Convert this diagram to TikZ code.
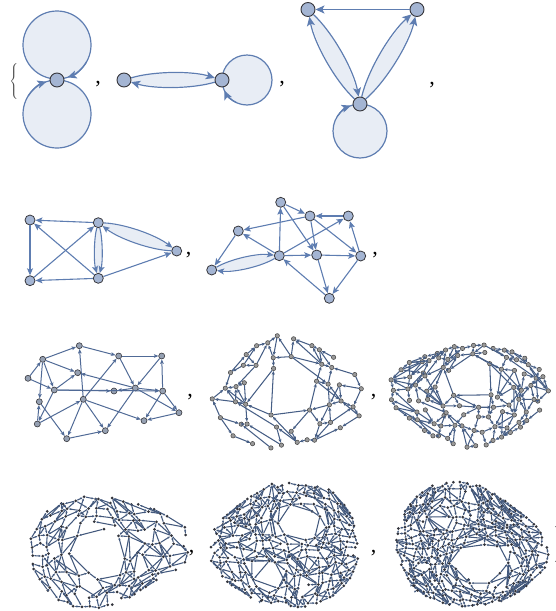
\documentclass[tikz,border=0pt]{standalone}
\usepackage{fontspec}
\setmainfont{Liberation Serif}
\usetikzlibrary{arrows.meta,calc}
\pgfdeclarelayer{bg}
\pgfsetlayers{bg,main}
\definecolor{ecol}{RGB}{94,125,177}
\definecolor{nfill}{RGB}{164,181,211}
\definecolor{ndraw}{RGB}{55,55,60}
\definecolor{lfill}{RGB}{232,237,245}
\definecolor{dcol}{RGB}{50,52,60}
\tikzset{
 vA/.style={circle,draw=ndraw,fill=nfill,line width=0.9pt,inner sep=0pt,minimum size=14pt},
 vB/.style={vA,minimum size=10pt,line width=0.8pt},
 vC/.style={circle,draw=ndraw,fill=nfill!60!gray,line width=0.6pt,inner sep=0pt,minimum size=6pt},
 vD/.style={circle,draw=black!75,fill=black!40,line width=0.5pt,inner sep=0pt,minimum size=4.4pt},
 vE/.style={circle,fill=dcol,inner sep=0pt,minimum size=3pt},
 eA/.style={draw=ecol,line width=1.2pt,-{Stealth[length=9pt,width=8pt,inset=2pt]}},
 eB/.style={draw=ecol,line width=1.1pt,-{Stealth[length=7pt,width=6pt,inset=1.5pt]}},
 eC/.style={draw=ecol!85!black,line width=1pt,-{Stealth[length=4.5pt,width=3.6pt,inset=1pt]}},
 eD/.style={draw=ecol!75!black,line width=1.05pt,-{Stealth[length=3.6pt,width=3pt,inset=0.8pt]}},
 eE/.style={draw=ecol!70!black,line width=1.05pt,-{Stealth[length=2.4pt,width=2pt,inset=0.5pt]}},
 loopst/.style={fill=lfill,draw=ecol,line width=1.2pt},
 brc/.style={inner sep=0pt,text=black!70},
 commast/.style={inner sep=0pt,font=\fontsize{22}{24}\selectfont}
}
\newcommand\rndedge[3]{%
 \pgfmathtruncatemacro\eflag{rnd<#3 ? 1 : 0}%
 \ifnum\eflag=1
  \edef\eax{\csname X@#1\endcsname}\edef\eay{\csname Y@#1\endcsname}%
  \edef\ebx{\csname X@#2\endcsname}\edef\eby{\csname Y@#2\endcsname}%
  \pgfmathtruncatemacro\eok{veclen(\ebx-\eax,\eby-\eay)<\maxlen ? 1 : 0}%
  \ifnum\eok=1
   \pgfmathtruncatemacro\edir{rnd<0.5 ? 1 : 0}%
   \ifnum\edir=1 \draw[meshe] (#1) -- (#2);\else \draw[meshe] (#2) -- (#1);\fi
  \fi
 \fi}
% local hole: push points away from (hx,hy): inside radius R, map d -> r + d (R-r)/R
\newcommand\holepush[4]{%
 \pgfmathsetmacro\hdx{\gx-(#1)}%
 \pgfmathsetmacro\hdy{\gy-(#2)}%
 \pgfmathsetmacro\hd{max(sqrt((\hdx)*(\hdx)+(\hdy)*(\hdy)),0.02)}%
 \pgfmathsetmacro\hf{\hd<#4 ? (#3+\hd*(#4-#3)/#4)/\hd : 1}%
 \pgfmathsetmacro\gx{#1+(\hdx)*\hf}%
 \pgfmathsetmacro\gy{#2+(\hdy)*\hf}}
% #1 name, #2 cx, #3 cy, #4 rx, #5 ry, #6 Nx, #7 Ny, #8 jitter
\newcommand\meshgraph[8]{%
 \pgfmathtruncatemacro\mNx{#6-1}%
 \pgfmathtruncatemacro\mNy{#7-1}%
 \foreach \i in {0,...,\mNx}{%
  \foreach \j in {0,...,\mNy}{%
   \pgfmathsetmacro\gu{-1+2*\i/\mNx+#8*rand}%
   \pgfmathsetmacro\gv{-1+2*\j/\mNy+#8*rand}%
   \pgfmathsetmacro\gx{(\gu)*sqrt(max(1-(\gv)*(\gv)/2,0.3))}%
   \pgfmathsetmacro\gy{(\gv)*sqrt(max(1-(\gu)*(\gu)/2,0.3))}%
   \pgfmathsetmacro\gt{atan2(\gy,\gx)}%
   \pgfmathsetmacro\gs{1+\irrA*sin(3*\gt+\irrP)+\irrB*cos(2*\gt+\irrQ)}%
   \pgfmathsetmacro\gx{\gx*\gs}%
   \pgfmathsetmacro\gy{\gy*\gs}%
   \holepush{\hAx}{\hAy}{\hAr}{\hAR}%
   \holepush{\hBx}{\hBy}{\hBr}{\hBR}%
   \pgfmathsetmacro\px{#2+#4*\gx}%
   \pgfmathsetmacro\py{#3+#5*\gy}%
   \expandafter\xdef\csname X@#1-\i-\j\endcsname{\px}%
   \expandafter\xdef\csname Y@#1-\i-\j\endcsname{\py}%
   \node[meshv] (#1-\i-\j) at (\px,\py) {};
  }}%
 \foreach \i in {0,...,\mNx}{%
  \foreach \j in {0,...,\mNy}{%
   \pgfmathtruncatemacro\ia{\i+1}%
   \pgfmathtruncatemacro\ja{\j+1}%
   \pgfmathtruncatemacro\ib{\i+2}%
   \pgfmathtruncatemacro\jb{\j+2}%
   \pgfmathtruncatemacro\jm{\j-1}%
   \ifnum\i<\mNx \rndedge{#1-\i-\j}{#1-\ia-\j}{\pA}\fi
   \ifnum\j<\mNy \rndedge{#1-\i-\j}{#1-\i-\ja}{\pA}\fi
   \ifnum\i<\mNx \ifnum\j<\mNy \rndedge{#1-\i-\j}{#1-\ia-\ja}{\pD}\fi\fi
   \ifnum\i<\mNx \ifnum\j>0 \rndedge{#1-\i-\j}{#1-\ia-\jm}{\pD}\fi\fi
   \ifnum\ib>\mNx\else \ifnum\j<\mNy \rndedge{#1-\i-\j}{#1-\ib-\ja}{\pL}\fi\fi
   \ifnum\jb>\mNy\else \ifnum\i<\mNx \rndedge{#1-\i-\j}{#1-\ia-\jb}{\pL}\fi\fi
  }}%
}
\newcommand\setholes[8]{\def\hAx{#1}\def\hAy{#2}\def\hAr{#3}\def\hAR{#4}\def\hBx{#5}\def\hBy{#6}\def\hBr{#7}\def\hBR{#8}}
\begin{document}
\begin{tikzpicture}[x=1pt,y=-1pt]
\useasboundingbox (0,0) rectangle (556,611);
%% ---------------- Row 1
\node[brc] (lbrace) at (14.5,82) {$\left\{\vrule height 17pt depth 17pt width 0pt\right.$};
\node[vA] (s1) at (57,80) {};
\node[commast] (c1) at (98,84) {,};
\node[vA] (s2a) at (124,80) {};
\node[vA] (s2b) at (222,80) {};
\node[commast] (c2) at (282,84) {,};
\node[vA] (s3a) at (308,9.5) {};
\node[vA] (s3b) at (417,9.5) {};
\node[vA] (s3c) at (360,104) {};
\node[commast] (c3) at (432,85) {,};
\begin{pgfonlayer}{bg}
 \filldraw[loopst] (57,45) circle[radius=34];
 \filldraw[loopst] (57,114) circle[radius=34];
 \filldraw[loopst] (247,80) circle[radius=25];
 \filldraw[loopst] (360,131) circle[radius=27];
 \fill[lfill] (s2a.center) .. controls (154,71) and (192,71) .. (s2b.center) .. controls (192,89) and (154,89) .. (s2a.center);
 \fill[lfill] (s3a.center) .. controls (333,32.7) and (353.8,70.5) .. (s3c.center) .. controls (335,80.9) and (314.2,43.1) .. (s3a.center);
 \fill[lfill] (s3c.center) .. controls (386.3,81.2) and (409.1,43.4) .. (s3b.center) .. controls (390.7,32.3) and (367.9,70.1) .. (s3c.center);
\end{pgfonlayer}
\draw[eA] ($(57,45)+(30:34)$) arc[start angle=30,end angle=72,radius=34];
\draw[eA] ($(57,114)+(212:34)$) arc[start angle=212,end angle=252,radius=34];
\draw[eA] ($(247,80)+(115:25)$) arc[start angle=115,end angle=155,radius=25];
\draw[eA] ($(360,131)+(212:27)$) arc[start angle=212,end angle=250,radius=27];
\draw[eA] (s2a) .. controls (154,71) and (192,71) .. (s2b);
\draw[eA] (s2b) .. controls (192,89) and (154,89) .. (s2a);
\draw[eA] (s3b) -- (s3a);
\draw[eA] (s3a) .. controls (333,32.7) and (353.8,70.5) .. (s3c);
\draw[eA] (s3c) .. controls (335,80.9) and (314.2,43.1) .. (s3a);
\draw[eA] (s3c) .. controls (386.3,81.2) and (409.1,43.4) .. (s3b);
\draw[eA] (s3c) .. controls (367.9,70.1) and (390.7,32.3) .. (s3b);
%% ---------------- Row 2, graph 1
\node[vB] (qA) at (30,220) {};
\node[vB] (qB) at (98.3,222.7) {};
\node[vB] (qC) at (176.7,251) {};
\node[vB] (qD) at (30,280.7) {};
\node[vB] (qE) at (98.3,278.3) {};
\node[commast] (c4) at (188.5,255) {,};
\begin{pgfonlayer}{bg}
 \fill[lfill] (qB.center) .. controls (93.8,238.7) and (93.8,262.3) .. (qE.center) .. controls (102.8,262.3) and (102.8,238.7) .. (qB.center);
 \fill[lfill] (qB.center) .. controls (124.5,223.7) and (155.9,235) .. (qC.center) .. controls (150.5,250) and (119.1,238.7) .. (qB.center);
\end{pgfonlayer}
\draw[eB] (qB) -- (qA);
\draw[eB] (qA) -- (qD);
\draw[eB] (qE) -- (qD);
\draw[eB] (qD) -- (qB);
\draw[eB] (qE) -- (qA);
\draw[eB] (qB) .. controls (93.8,238.7) and (93.8,262.3) .. (qE);
\draw[eB] (qB) .. controls (102.8,238.7) and (102.8,262.3) .. (qE);
\draw[eB] (qB) .. controls (124.5,223.7) and (155.9,235) .. (qC);
\draw[eB] (qC) .. controls (150.5,250) and (119.1,238.7) .. (qB);
\draw[eB] (qE) -- (qC);
%% ---------------- Row 2, graph 2
\node[vB] (w1) at (280.7,202.3) {};
\node[vB] (w2) at (310,216) {};
\node[vB] (w3) at (348.3,216) {};
\node[vB] (w4) at (238.3,231) {};
\node[vB] (w5) at (279.3,255.7) {};
\node[vB] (w6) at (316.7,255) {};
\node[vB] (w7) at (360.7,256) {};
\node[vB] (w8) at (211.7,270) {};
\node[vB] (w9) at (329.3,298.3) {};
\node[commast] (c5) at (375,255) {,};
\begin{pgfonlayer}{bg}
 \fill[lfill] (w8.center) .. controls (230.5,258.9) and (257.5,253.2) .. (w5.center) .. controls (260.5,266.9) and (233.5,272.6) .. (w8.center);
\end{pgfonlayer}
\draw[eB] (w1) -- (w2);
\draw[eB] (w3) -- (w2);
\draw[eB] (w2) -- (w4);
\draw[eB] (w5) -- (w1);
\draw[eB] (w1) -- (w6);
\draw[eB] (w2) -- (w6);
\draw[eB] (w2) -- (w7);
\draw[eB] (w5) -- (w3);
\draw[eB] (w7) -- (w3);
\draw[eB] (w5) -- (w4);
\draw[eB] (w4) -- (w8);
\draw[eB] (w8) .. controls (230.5,258.9) and (257.5,253.2) .. (w5);
\draw[eB] (w5) .. controls (260.5,266.9) and (233.5,272.6) .. (w8);
\draw[eB] (w5) -- (w6);
\draw[eB] (w6) -- (w7);
\draw[eB] (w9) -- (w5);
\draw[eB] (w6) -- (w9);
\draw[eB] (w7) -- (w9);
%% ---------------- Row 3, graph 1
\node[vC] (ta) at (79.3,345.7) {};
\node[vC] (tb) at (42.7,359.3) {};
\node[vC] (tc) at (118.7,356) {};
\node[vC] (td) at (161.7,356) {};
\node[vC] (te) at (28,378.3) {};
\node[vC] (tf) at (77.7,372.7) {};
\node[vC] (tg) at (54.3,390) {};
\node[vC] (th) at (114,391) {};
\node[vC] (ti) at (135.3,388) {};
\node[vC] (tj) at (162.7,391) {};
\node[vC] (tk) at (39.3,401.7) {};
\node[vC] (tl) at (83.3,399.3) {};
\node[vC] (tm) at (179,412.7) {};
\node[vC] (tn) at (144,420.7) {};
\node[vC] (to) at (37.3,424) {};
\node[vC] (tp) at (105.3,430.7) {};
\node[vC] (tq) at (66.7,438.7) {};
\node[commast] (c6) at (190,397) {,};
\foreach \s/\t in {tb/ta,ta/tc,tc/td,tl/tc,tc/ti,td/ti,tj/td,te/tb,tb/tg,tb/tk,tb/tf,ti/tf,tl/ta,te/tg,tg/th,ti/th,ti/tj,tg/tf,tg/to,to/tl,tl/tq,tl/tp,tl/tn,tk/tq,tq/tp,ti/tp,tj/tn,tm/tn,tj/tm,ti/tm,to/tk,tg/tj}
  \draw[eC] (\s) -- (\t);
%% ---------------- Row 3, graphs 2 and 3
\node[commast] (c7) at (373.5,397) {,};
\node[commast] (c8) at (558,397) {,};
\tikzset{meshv/.style={vD},meshe/.style={eD}}
\def\pA{0.75}\def\pD{0.3}\def\pL{0.16}
\def\irrA{0.07}\def\irrP{30}\def\irrB{0.05}\def\irrQ{80}
\setholes{-0.05}{-0.05}{0.34}{0.85}{0}{0}{0}{0.1}
\def\maxlen{50}
\pgfmathsetseed{17}
\meshgraph{ma}{287}{395}{70}{52}{8}{6}{0.1}
\def\irrA{0.06}\def\irrP{200}\def\irrB{0.05}\def\irrQ{10}
\setholes{0.05}{-0.3}{0.32}{0.8}{0}{0}{0}{0.1}
\def\maxlen{38}
\pgfmathsetseed{29}
\meshgraph{mb}{469.5}{394.5}{73}{49}{12}{8}{0.07}
%% ---------------- Row 4
\node[commast] (c9) at (191.5,553) {,};
\node[commast] (c10) at (373.5,553) {,};
\node[brc,anchor=west] (rbrace) at (552,545) {$\left.\vrule height 17pt depth 17pt width 0pt\right\}$};
\tikzset{meshv/.style={vE},meshe/.style={eE}}
\def\pA{0.76}\def\pD{0.3}\def\pL{0.12}
\def\irrA{0.08}\def\irrP{120}\def\irrB{0.06}\def\irrQ{40}
\setholes{-0.1}{0.05}{0.3}{0.85}{0.62}{0.2}{0.12}{0.3}
\def\maxlen{34}
\pgfmathsetseed{41}
\meshgraph{mc}{104}{550}{74}{55}{14}{10}{0.06}
\def\irrA{0.05}\def\irrP{300}\def\irrB{0.05}\def\irrQ{160}
\setholes{0.15}{-0.4}{0.2}{0.55}{-0.25}{0.55}{0.16}{0.45}
\def\maxlen{28}
\pgfmathsetseed{53}
\meshgraph{md}{287}{545}{76}{58}{18}{14}{0.05}
\def\irrA{0.06}\def\irrP{60}\def\irrB{0.05}\def\irrQ{250}
\setholes{0.17}{0.3}{0.27}{0.72}{-0.4}{-0.45}{0.12}{0.3}
\def\maxlen{26}
\pgfmathsetseed{67}
\meshgraph{mf}{468}{546}{74}{59}{20}{16}{0.045}
\end{tikzpicture}
\end{document}
